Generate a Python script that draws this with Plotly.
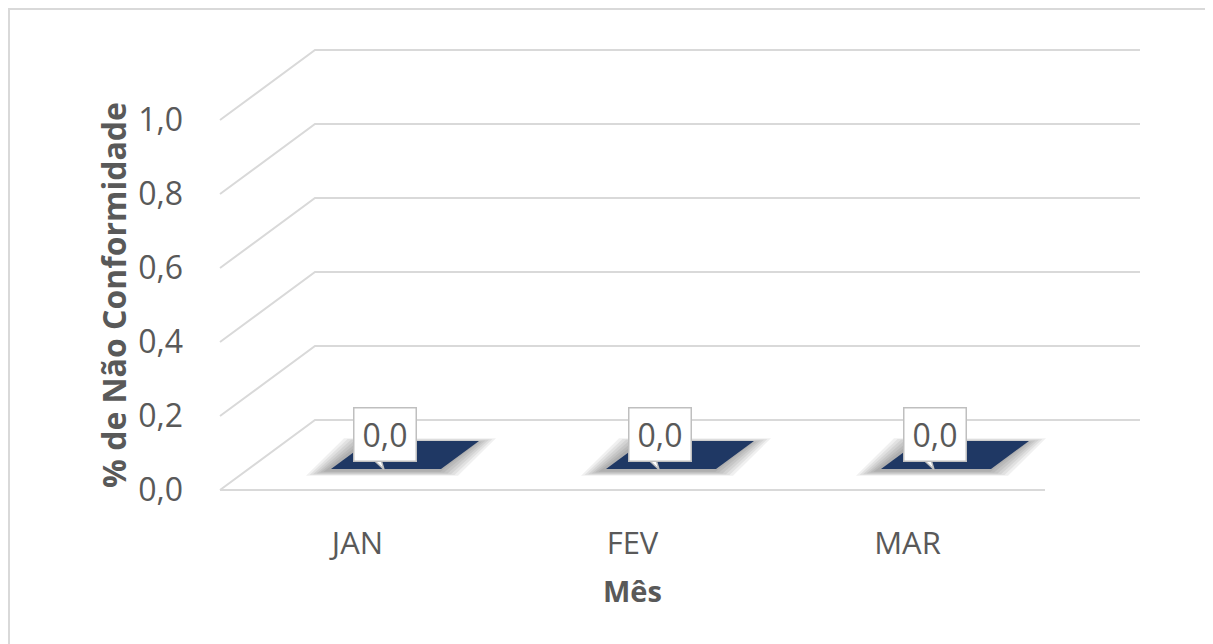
import plotly.graph_objects as go

# ---------------- data ----------------
categories = ["JAN", "FEV", "MAR"]
values = [0.0, 0.0, 0.0]
y_ticks = [0.0, 0.2, 0.4, 0.6, 0.8, 1.0]
y_ticktext = ["0,0", "0,2", "0,4", "0,6", "0,8", "1,0"]
y_title = "% de Não Conformidade"
x_title = "Mês"

# ---------------- geometry / style ----------------
OFF = 8               # page body margin offset
W, H = 1213, 644
L, R, T, B = 182, 53, 32, 130
PW, PH = W - L - R, H - T - B
PX_X = 275.0          # px per category unit
PX_Y = 370.0          # px per value unit
X0_PX = 220 - OFF     # pixel of front-left floor corner
Y0_PX = 490 - OFF     # pixel of value 0 on front edge
xmin = -0.5 - (X0_PX - L) / PX_X
xmax = xmin + PW / PX_X
ymax = (Y0_PX - T) / PX_Y
ymin = ymax - PH / PX_Y
DX = 95 / PX_X        # depth offset (x)
DY = 70 / PX_Y        # depth offset (y)
BW = 0.4              # bar width (categories)
F0, F1 = 0.3, 0.7     # bar depth fractions

GRID = "#d9d9d9"
TXT = "#595959"
BAR = "#1F3864"
FONT = "Open Sans"

n = len(categories)
fig = go.Figure()

# walls / gridlines
gx, gy = [], []
for t in y_ticks:
    gx += [-0.5, -0.5 + DX, n - 0.5 + DX, None]
    gy += [t, t + DY, t + DY, None]
gx += [-0.5, n - 0.5, None]
gy += [0, 0, None]
fig.add_trace(go.Scatter(x=gx, y=gy, mode="lines", line=dict(color=GRID, width=2),
                         hoverinfo="skip", showlegend=False))


def face(i, v, ex=0.0, ey=0.0):
    xs = [i - BW / 2 + F0 * DX - ex, i + BW / 2 + F0 * DX + ex,
          i + BW / 2 + F1 * DX + ex, i - BW / 2 + F1 * DX - ex,
          i - BW / 2 + F0 * DX - ex]
    ys = [v + F0 * DY - ey, v + F0 * DY - ey, v + F1 * DY + ey,
          v + F1 * DY + ey, v + F0 * DY - ey]
    return xs, ys


# shadows
for k in range(6, 0, -1):
    for i, v in enumerate(values):
        xs, ys = face(i, v, ex=k * 3.5 / PX_X, ey=k * 0.8 / PX_Y)
        xs = [x - 4 / PX_X for x in xs]
        ys = [y - 2 / PX_Y for y in ys]
        fig.add_trace(go.Scatter(x=xs, y=ys, mode="lines", fill="toself",
                                 fillcolor="rgba(0,0,0,0.06)", line=dict(width=0),
                                 hoverinfo="skip", showlegend=False))

# bars (top faces of zero-height 3D columns)
for i, v in enumerate(values):
    xs, ys = face(i, v)
    fig.add_trace(go.Scatter(x=xs, y=ys, mode="lines", fill="toself",
                             fillcolor=BAR, line=dict(width=0, color=BAR),
                             hoverinfo="skip", showlegend=False))

# data label callouts
for i, v in enumerate(values):
    cx = i + (F0 + F1) / 2 * DX
    cy = v + (F0 + F1) / 2 * DY
    bx = cx - 20 / PX_X
    by = cy + 20.5 / PX_Y
    tx = [bx - 15 / PX_X, bx - 1 / PX_X, bx - 5 / PX_X]
    ty = [by - 22 / PX_Y, by - 35 / PX_Y, by - 22 / PX_Y]
    fig.add_trace(go.Scatter(x=tx + [tx[0]], y=ty + [ty[0]], mode="lines", fill="toself",
                             fillcolor="white", line=dict(color="#bfbfbf", width=1.5),
                             hoverinfo="skip", showlegend=False))
    fig.add_annotation(x=bx, y=by, xref="x", yref="y", showarrow=False,
                       text=f"{v:.1f}".replace(".", ","),
                       font=dict(family=FONT, size=32, color=TXT),
                       bgcolor="white", bordercolor="#bfbfbf", borderwidth=1.5,
                       width=61, height=52, borderpad=0)

# axis titles
fig.add_annotation(x=(n - 1) / 2, y=0, xref="x", yref="y", yshift=-100,
                   text=f"<b>{x_title}</b>", showarrow=False,
                   font=dict(family=FONT, size=29, color=TXT))
fig.add_annotation(x=-0.5, y=(y_ticks[0] + y_ticks[-1]) / 2, xref="x", yref="y",
                   xshift=-(220 - 113), yshift=10, text=f"<b>{y_title}</b>", textangle=-90,
                   showarrow=False, font=dict(family=FONT, size=32, color=TXT))

# outer chart border
bl = max(7 - OFF, 1)
fig.add_shape(type="rect", xref="paper", yref="paper",
              x0=(bl - L) / PW, x1=(W + 20 - L) / PW,
              y0=(T + PH - (H + 20)) / PH, y1=(T + PH - bl) / PH,
              line=dict(color=GRID, width=2), fillcolor="rgba(0,0,0,0)", layer="below")

fig.update_layout(
    width=W, height=H, margin=dict(l=L, r=R, t=T, b=B, autoexpand=False),
    paper_bgcolor="white", plot_bgcolor="white", showlegend=False,
    font=dict(family=FONT, color=TXT),
    xaxis=dict(range=[xmin, xmax], tickvals=list(range(n)), ticktext=categories,
               showgrid=False, zeroline=False, showline=False, ticks="",
               tickfont=dict(family=FONT, size=31, color=TXT), fixedrange=True),
    yaxis=dict(range=[ymin, ymax], tickvals=y_ticks, ticktext=y_ticktext,
               showgrid=False, zeroline=False, showline=False, ticks="",
               ticklabelstandoff=6,
               tickfont=dict(family=FONT, size=32, color=TXT), fixedrange=True),
)

fig.write_html("out.html")
